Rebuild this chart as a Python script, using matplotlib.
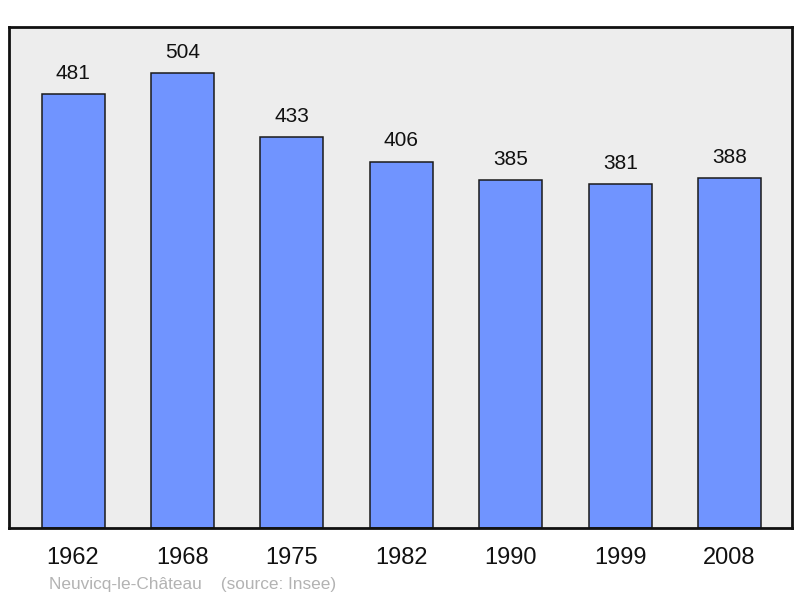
import matplotlib
matplotlib.use("Agg")
import matplotlib.pyplot as plt

years = ["1962", "1968", "1975", "1982", "1990", "1999", "2008"]
population = [481, 504, 433, 406, 385, 381, 388]

plt.rcParams['font.family'] = ['Liberation Sans', 'DejaVu Sans']

fig = plt.figure(figsize=(8, 5.98), dpi=100)
ax = fig.add_axes([9 / 800, 70 / 598, 783 / 800, 501 / 598])
ax.set_facecolor('#ededed')

x = list(range(len(years)))
ax.bar(x, population, width=0.576, color='#7094ff', edgecolor='#1a1a1a', linewidth=1.1, zorder=2)
for xi, v in zip(x, population):
    ax.annotate(str(v), (xi, v), xytext=(0, 8), textcoords='offset points',
                ha='center', va='bottom', fontsize=15, color='#111111')

ax.set_xlim(-0.585, 6.57)
ax.set_ylim(0, 555)
ax.set_yticks([])
ax.set_xticks(x)
ax.set_xticklabels(years, fontsize=17, color='#111111')
ax.tick_params(axis='x', length=0, pad=14)
for s in ax.spines.values():
    s.set_linewidth(2)
    s.set_color('#111111')

fig.text(49 / 800, 1 - 584 / 598, "Neuvicq-le-Château    (source: Insee)", fontsize=12.4,
         color='#b3b3b3', va='center', ha='left')

fig.savefig("out.png", dpi=100)
